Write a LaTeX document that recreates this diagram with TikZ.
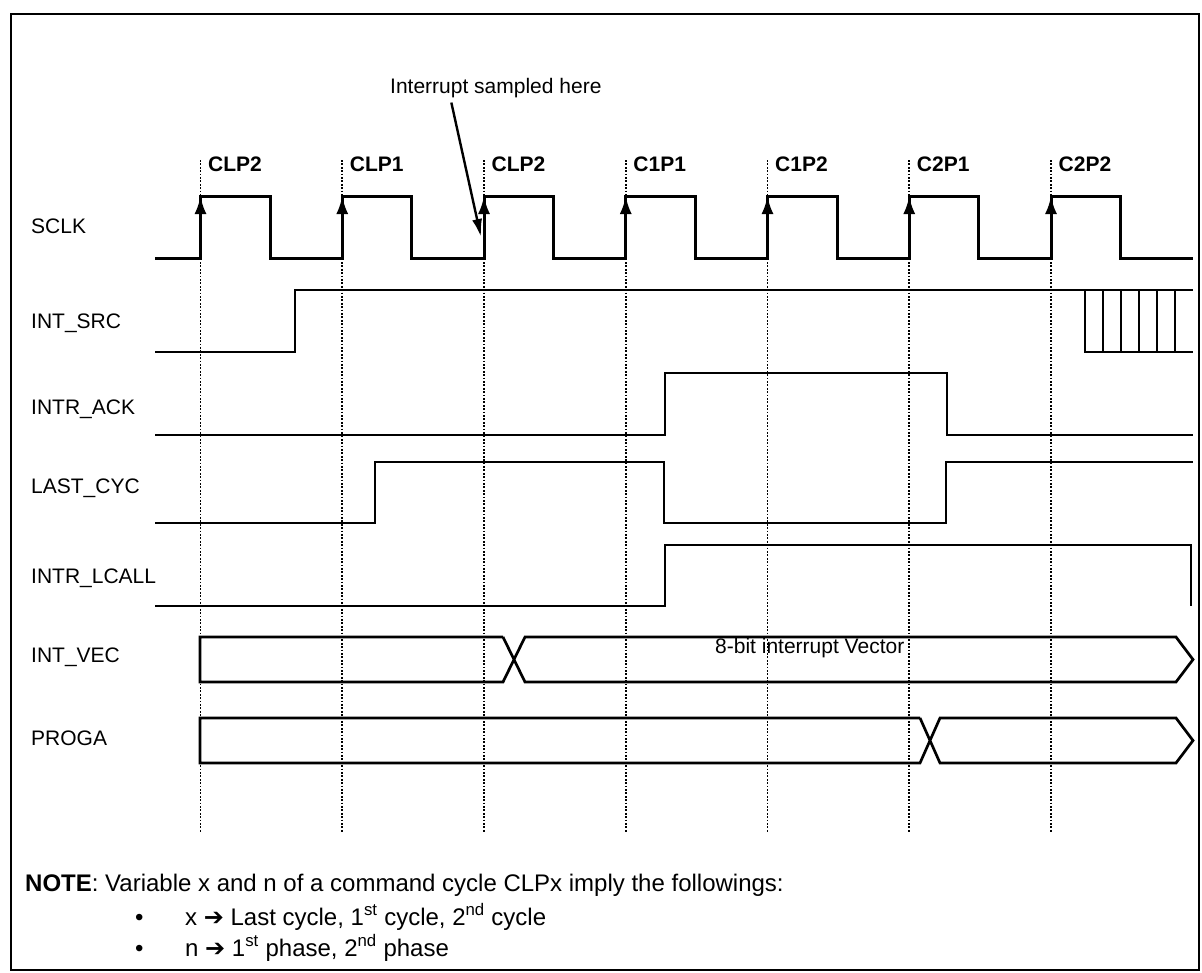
\documentclass[tikz,border=0pt]{standalone}
\usepackage{fontspec}
\setmainfont{Liberation Sans}
\newfontfamily\dingfont{DejaVu Sans}
\usetikzlibrary{arrows.meta}
\newcommand{\notearrow}{{\dingfont\char"2794}}
\tikzset{
  wave/.style={line width=2.7pt,line join=miter},
  clk/.style={line width=3pt,line join=miter},
  edge/.style={line width=3pt,-{Latex[length=18pt,width=12pt]}},
  pointer/.style={line width=2.4pt,-{Latex[length=18pt,width=10pt]}},
  tick/.style={line width=1.8pt,dash pattern=on 1.8pt off 1.6pt},
  frame/.style={line width=2.2pt},
  lbl/.style={anchor=base west,inner sep=0pt,font=\fontsize{21}{25}\selectfont},
  phase/.style={lbl,font=\fontsize{21}{25}\selectfont\bfseries},
  note/.style={anchor=base west,inner sep=0pt,font=\fontsize{24}{28}\selectfont},
}
\begin{document}
\begin{tikzpicture}[x=1pt,y=-1pt]
\useasboundingbox (0,0) rectangle (1202,972);
\draw[frame] (11,14) rectangle (1199,970);
% phase boundaries
\foreach \n [count=\i from 0] in {CLP2,CLP1,CLP2,C1P1,C1P2,C2P1,C2P2}{
  \pgfmathsetmacro{\x}{200.5+141.75*\i}
  \draw[tick] (\x,160) -- (\x,833);
  \node[phase] (ph\i) at (\x+7.5,171) {\n};
}
% signal names
\foreach \s/\y [count=\i] in {SCLK/233,INT\_SRC/328,INTR\_ACK/414,LAST\_CYC/493,INTR\_LCALL/583,INT\_VEC/662,PROGA/745}
  \node[lbl] (sig\i) at (31,\y) {\s};
% SCLK
\draw[clk] (155,258) \foreach \i in {0,...,6}{ -- ({200.5+141.75*\i},258) -- ++(0,-62) -- ++(69.5,0) -- ++(0,62) } -- (1193,258);
\foreach \i in {0,...,6} \draw[edge] ({200.5+141.75*\i},236) -- ++(0,-40);
% INT_SRC
\draw[wave] (155,352) -- (295,352) -- (295,290) -- (1193,290);
\draw[wave] (1085,290) -- (1085,352) -- (1193,352);
\foreach \x in {1103,1121,1139,1157,1175} \draw[wave] (\x,290) -- (\x,352);
% INTR_ACK, LAST_CYC, INTR_LCALL
\draw[wave] (155,435) -- (665,435) -- (665,373) -- (947,373) -- (947,435) -- (1193,435);
\draw[wave] (155,523) -- (375,523) -- (375,462) -- (664,462) -- (664,523) -- (946,523) -- (946,462) -- (1193,462);
\draw[wave] (155,606) -- (665,606) -- (665,545) -- (1191,545) -- (1191,606);
% INT_VEC
\draw[wave] (503,637) -- (200,637) -- (200,682) -- (503,682) -- (525,637) -- (1176,637) -- (1193,659.5) -- (1176,682) -- (525,682) -- (503,637);
\node[lbl] (vec) at (715,653) {8-bit interrupt Vector};
% PROGA
\draw[wave] (920,718) -- (200,718) -- (200,763) -- (920,763) -- (940,718) -- (1176,718) -- (1193,740.5) -- (1176,763) -- (940,763) -- (920,718);
% sampling point
\node[lbl] (smp) at (390,93) {Interrupt sampled here};
\coordinate (hit) at (481,237);
\draw[pointer] ([xshift=-44.5pt,yshift=-5pt]smp.south) -- (hit);
% note
\node[note] (nt) at (25,891) {\textbf{NOTE}: Variable x and n of a command cycle CLPx imply the followings:};
\node[note] (b1) at (135,925) {•};
\node[note] (t1) at (185,925) {x \notearrow\ Last cycle, 1\textsuperscript{st} cycle, 2\textsuperscript{nd} cycle};
\node[note] (b2) at (135,956) {•};
\node[note] (t2) at (185,956) {n \notearrow\ 1\textsuperscript{st} phase, 2\textsuperscript{nd} phase};
\end{tikzpicture}
\end{document}
